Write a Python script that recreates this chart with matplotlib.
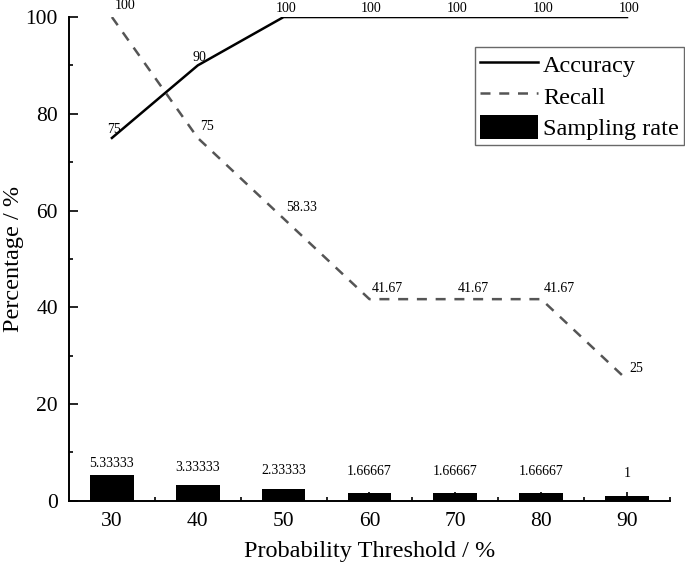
import matplotlib.pyplot as plt
import numpy as np
from matplotlib.ticker import AutoMinorLocator

plt.rcParams['font.family'] = ['Liberation Serif', 'DejaVu Serif']

thresholds = ["30", "40", "50", "60", "70", "80", "90"]
accuracy = [75, 90, 100, 100, 100, 100, 100]
recall = [100, 75, 58.33, 41.67, 41.67, 41.67, 25]
sampling_rate = [5.33333, 3.33333, 2.33333, 1.66667, 1.66667, 1.66667, 1]

x = np.arange(len(thresholds))

fig = plt.figure(figsize=(6.85, 5.68), dpi=100)
ax = fig.add_axes([0.1007, 0.1185, 0.8773, 0.8515])

bars = ax.bar(x, sampling_rate, width=0.51, color="black", label="Sampling rate", zorder=2)
acc_line, = ax.plot(x, accuracy, color="black", lw=1.8, label="Accuracy", zorder=3)
rec_line, = ax.plot(x, recall, color="#555555", lw=1.8, dashes=(4, 3.5),
                    label="Recall", zorder=3)

# value labels
for xi, v in zip(x, accuracy):
    ax.annotate(f"{v:g}", (xi, v), xytext=(1.5, 6), textcoords="offset points",
                ha="center", va="center", fontsize=10)
for xi, v in zip(x, recall):
    ax.annotate(f"{v:g}", (xi, v), xytext=(2, 8), textcoords="offset points",
                ha="left", va="center", fontsize=10)
for xi, v in zip(x, sampling_rate):
    # labels sit a bit higher above the short bars, as in the original
    ax.text(xi, v / 2 + 5.1, f"{v:g}", ha="center", va="center", fontsize=10)

ax.set_xlim(-0.5, len(x) - 0.5)
ax.set_ylim(0, 100)
ax.set_xticks(x)
ax.set_xticklabels(thresholds)
ax.set_xticks(np.arange(len(x)) + 0.5, minor=True)
ax.set_yticks([0, 20, 40, 60, 80, 100])
ax.yaxis.set_minor_locator(AutoMinorLocator(2))

for side in ["top", "right"]:
    ax.spines[side].set_visible(False)
for side in ["left", "bottom"]:
    ax.spines[side].set_linewidth(1.4)

ax.tick_params(which="major", direction="in", length=6.5, width=1.2,
               labelsize=15.5, pad=8)
ax.tick_params(which="minor", direction="in", length=3, width=1.2)

ax.set_xlabel("Probability Threshold / %", fontsize=17.5, labelpad=7)
ax.set_ylabel("Percentage / %", fontsize=17.5, labelpad=1)

leg = ax.legend(handles=[acc_line, rec_line, bars], loc="upper right",
                bbox_to_anchor=(684 / 685, 1 - 47 / 568),
                bbox_transform=fig.transFigure, borderaxespad=0,
                fontsize=17.5, frameon=True, fancybox=False, edgecolor="#444444",
                handlelength=2.4, handleheight=1.15, labelspacing=0.25,
                handletextpad=0.2, borderpad=0.2)
leg.get_frame().set_linewidth(1.0)

plt.savefig("out.png", dpi=100)
